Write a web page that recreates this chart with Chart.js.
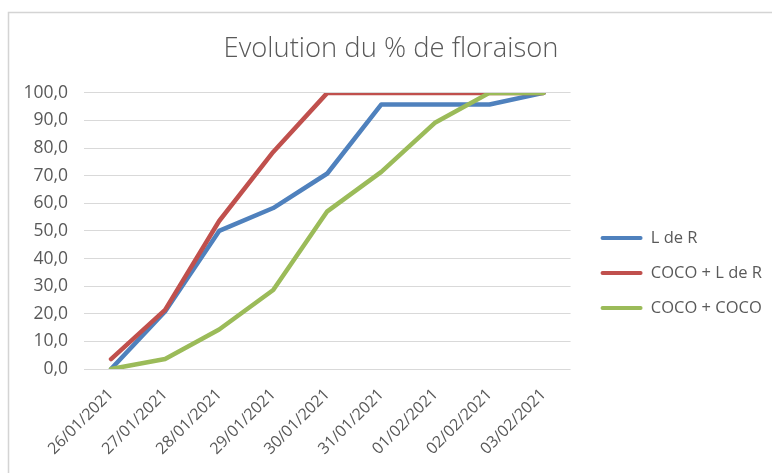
<!DOCTYPE html>
<html>
<head>
<meta charset="utf-8">
<script src="https://cdn.jsdelivr.net/npm/chart.js@4"></script>
<style>
html,body{margin:0;padding:0;background:#fff;}
#wrap{width:772px;height:473px;position:relative;}
</style>
</head>
<body>
<div id="wrap"><canvas id="c" width="772" height="473"></canvas></div>
<script>
const categories = ['26/01/2021','27/01/2021','28/01/2021','29/01/2021','30/01/2021','31/01/2021','01/02/2021','02/02/2021','03/02/2021'];
const seriesNames = ['L de R', 'COCO + L de R', 'COCO + COCO'];
const lDeR      = [0.0, 20.8, 50.0, 58.3, 70.8, 95.8, 95.8, 95.8, 100.0];
const cocoLdeR  = [3.6, 21.4, 53.6, 78.6, 100.0, 100.0, 100.0, 100.0, 100.0];
const cocoCoco  = [0.0, 3.6, 14.3, 28.6, 57.1, 71.4, 89.3, 100.0, 100.0];
const yTicks    = [0, 10, 20, 30, 40, 50, 60, 70, 80, 90, 100];
const chartTitle = 'Evolution du % de floraison';

const FONT = "'Open Sans', 'Noto Sans', sans-serif";
const TXT = '#595959';

const frame = {
  id: 'frame',
  beforeDraw(chart) {
    const ctx = chart.ctx;
    ctx.save();
    ctx.fillStyle = '#fff';
    ctx.fillRect(0, 0, chart.width, chart.height);
    ctx.strokeStyle = '#d4d4d4';
    ctx.lineWidth = 1.5;
    ctx.beginPath();
    ctx.moveTo(8.5, chart.height);
    ctx.lineTo(8.5, 12.5);
    ctx.lineTo(chart.width, 12.5);
    ctx.stroke();
    ctx.restore();
  }
};

function ds(label, data, color, order) {
  return {
    label, data, order,
    borderColor: color, backgroundColor: color,
    borderWidth: 4.5, pointRadius: 0, pointHoverRadius: 0,
    tension: 0, fill: false,
    borderCapStyle: 'round', borderJoinStyle: 'round'
  };
}

new Chart(document.getElementById('c'), {
  type: 'line',
  data: {
    labels: categories,
    datasets: [
      ds(seriesNames[0], lDeR, '#4F81BD', 2),
      ds(seriesNames[1], cocoLdeR, '#C0504D', 1),
      ds(seriesNames[2], cocoCoco, '#9BBB59', 0)
    ]
  },
  options: {
    responsive: false,
    animation: false,
    events: [],
    layout: { padding: { left: 10, top: 13, right: 0, bottom: 0 } },
    plugins: {
      tooltip: { enabled: false },
      title: {
        display: true, text: chartTitle, color: TXT,
        font: { family: FONT, size: 27.4, weight: '300' },
        padding: { top: 20, bottom: 27 }
      },
      legend: {
        position: 'right', align: 'center', maxWidth: 200,
        title: { display: true, text: '', font: { size: 10 }, padding: { top: 24, bottom: 24 } },
        labels: {
          color: TXT, font: { family: FONT, size: 16.5 },
          boxWidth: 42, boxHeight: 4, padding: 18.5,
          sort: (a, b) => a.datasetIndex - b.datasetIndex,
          generateLabels(chart) {
            const items = Chart.defaults.plugins.legend.labels.generateLabels(chart);
            return items.map(it => Object.assign(it, { fillStyle: it.strokeStyle, lineWidth: 0, borderRadius: 2 }));
          }
        }
      }
    },
    scales: {
      x: {
        offset: true,
        grid: { display: false },
        border: { display: false },
        ticks: {
          color: TXT, font: { family: FONT, size: 16 },
          maxRotation: 45, minRotation: 45, autoSkip: false, padding: 8
        },
        afterFit(s) { s.height = 104; }
      },
      y: {
        min: 0, max: 100,
        afterBuildTicks(s) { s.ticks = yTicks.map(v => ({ value: v })); },
        grid: { color: '#D9D9D9', lineWidth: 1, drawTicks: false },
        border: { display: false },
        ticks: {
          color: TXT, font: { family: FONT, size: 17.5 }, padding: 16,
          callback: v => v.toFixed(1).replace('.', ',')
        },
        afterFit(s) { s.width = 74; }
      },
      gap: {
        position: 'right', display: true,
        grid: { display: false }, border: { display: false },
        ticks: { display: false },
        afterFit(s) { s.width = 11.5; }
      }
    }
  },
  plugins: [frame]
});
</script>
</body>
</html>
